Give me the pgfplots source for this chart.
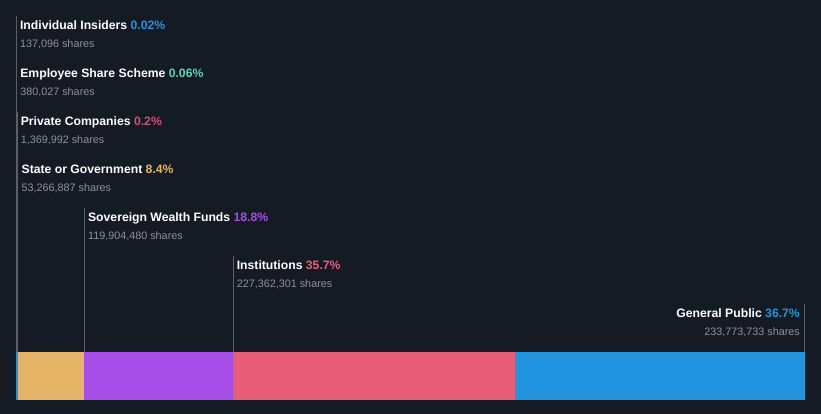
\documentclass[border=0pt]{standalone}
\usepackage{pgfplots}
\pgfplotsset{compat=1.18}
\usetikzlibrary{backgrounds}
\usepackage{fontspec}
\setmainfont{Liberation Sans}

\definecolor{bg}{HTML}{151B24}
\definecolor{linec}{HTML}{5A5F68}
\definecolor{sharec}{HTML}{8E929A}
\definecolor{cins}{HTML}{2394DF}
\definecolor{cemp}{HTML}{5BD3C0}
\definecolor{cpriv}{HTML}{D6487F}
\definecolor{cstate}{HTML}{E6B466}
\definecolor{cswf}{HTML}{A74DE8}
\definecolor{cinst}{HTML}{E85E78}
\definecolor{cpub}{HTML}{2394DF}

% shares in millions
\newcommand{\ttl}{\fontsize{12.2}{14}\selectfont\bfseries\color{white}}
\newcommand{\shr}{\fontsize{10.8}{12}\selectfont\color{sharec}}

\begin{document}
\begin{tikzpicture}
\begin{axis}[
    name=ax,
    scale only axis,
    width=821pt, height=414pt,
    xmin=-12.9013, xmax=649.0958,
    ymin=0, ymax=414,
    hide axis, clip=false,
    xbar stacked, bar width=48,
]
\addplot[fill=cins, draw=none] coordinates {(0.137096,38)};
\addplot[fill=cemp, draw=none] coordinates {(0.380027,38)};
\addplot[fill=cpriv, draw=none] coordinates {(1.369992,38)};
\addplot[fill=cstate, draw=none] coordinates {(53.266887,38)};
\addplot[fill=cswf, draw=none] coordinates {(119.904480,38)};
\addplot[fill=cinst, draw=none] coordinates {(227.362301,38)};
\addplot[fill=cpub, draw=none] coordinates {(233.773733,38)};

% leader lines
\draw[linec, line width=1pt] (axis cs:0.3,398) -- (axis cs:0.3,62);
\draw[linec, line width=1pt] (axis cs:0.5,350) -- (axis cs:0.5,62);
\draw[linec, line width=1pt] (axis cs:0.9,302) -- (axis cs:0.9,62);
\draw[linec, line width=1pt] (axis cs:1.6,254) -- (axis cs:1.6,62);
\draw[linec, line width=1pt] (axis cs:55.154,206) -- (axis cs:55.154,62);
\draw[linec, line width=1pt] (axis cs:175.058,158) -- (axis cs:175.058,62);
\draw[linec, line width=1pt] (axis cs:635.8,110) -- (axis cs:635.8,62);

% labels
\node[anchor=base west, inner sep=0, xshift=3.5pt] at (axis cs:0.3,384.5) {\ttl Individual Insiders {\color{cins}0.02\%}};
\node[anchor=base west, inner sep=0, xshift=3.5pt] at (axis cs:0.3,366.5) {\shr 137,096 shares};
\node[anchor=base west, inner sep=0, xshift=3.5pt] at (axis cs:0.5,336.5) {\ttl Employee Share Scheme {\color{cemp}0.06\%}};
\node[anchor=base west, inner sep=0, xshift=3.5pt] at (axis cs:0.5,318.5) {\shr 380,027 shares};
\node[anchor=base west, inner sep=0, xshift=3.5pt] at (axis cs:0.9,288.5) {\ttl Private Companies {\color{cpriv}0.2\%}};
\node[anchor=base west, inner sep=0, xshift=3.5pt] at (axis cs:0.9,270.5) {\shr 1,369,992 shares};
\node[anchor=base west, inner sep=0, xshift=3.5pt] at (axis cs:1.6,240.5) {\ttl State or Government {\color{cstate}8.4\%}};
\node[anchor=base west, inner sep=0, xshift=3.5pt] at (axis cs:1.6,222.5) {\shr 53,266,887 shares};
\node[anchor=base west, inner sep=0, xshift=3.5pt] at (axis cs:55.154,192.5) {\ttl Sovereign Wealth Funds {\color{cswf}18.8\%}};
\node[anchor=base west, inner sep=0, xshift=3.5pt] at (axis cs:55.154,174.5) {\shr 119,904,480 shares};
\node[anchor=base west, inner sep=0, xshift=3.5pt] at (axis cs:175.058,144.5) {\ttl Institutions {\color{cinst}35.7\%}};
\node[anchor=base west, inner sep=0, xshift=3.5pt] at (axis cs:175.058,126.5) {\shr 227,362,301 shares};
\node[anchor=base east, inner sep=0, xshift=-4.5pt] at (axis cs:635.8,96.5) {\ttl General Public {\color{cpub}36.7\%}};
\node[anchor=base east, inner sep=0, xshift=-4.5pt] at (axis cs:635.8,78.5) {\shr 233,773,733 shares};
\end{axis}
\begin{scope}[on background layer]
\fill[bg] (ax.south west) rectangle (ax.north east);
\end{scope}
\end{tikzpicture}
\end{document}
